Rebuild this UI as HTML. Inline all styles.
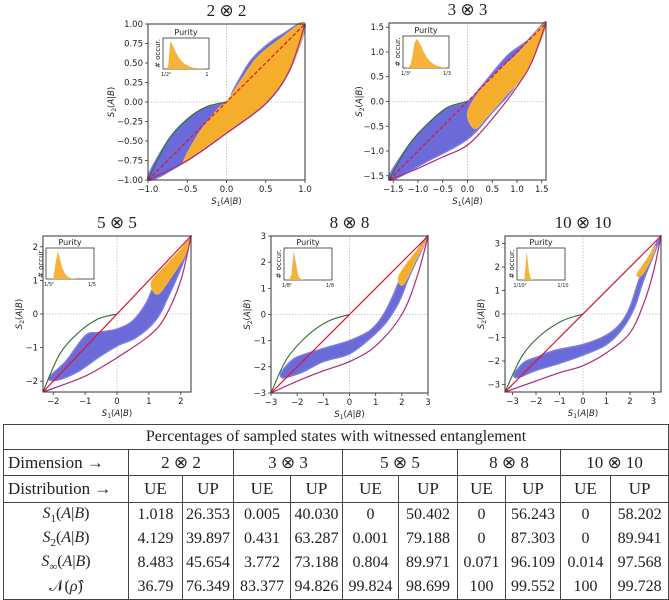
<!DOCTYPE html>
<html><head><meta charset="utf-8">
<style>
body{margin:0;background:#fff;width:669px;height:599px;overflow:hidden;position:relative;font-family:"DejaVu Sans",sans-serif}
svg{position:absolute;left:0;top:0}
table{position:absolute;left:3px;top:424px;width:665px;border-collapse:collapse;font-family:"Liberation Serif",serif;font-size:16px;color:#222;table-layout:fixed}
td{border-left:1px solid #444;border-right:1px solid #444;text-align:center;padding:0;white-space:nowrap;overflow:hidden}
tr.h td{border-top:1px solid #444;border-bottom:1px solid #444}
tr.t td{height:24px}
tr.dm td{height:25px;font-size:17px}
tr.ds td{height:26px;font-size:17px}
tr.d td{height:24px;font-size:16px}
tr.last td{border-bottom:1px solid #444}
</style></head><body>
<svg id="fig" width="669" height="424"></svg>
<table>
<colgroup><col style="width:125px"><col style="width:54px"><col style="width:51px"><col style="width:57px"><col style="width:52px"><col style="width:56px"><col style="width:59px"><col style="width:48px"><col style="width:55px"><col style="width:50px"><col style="width:58px"></colgroup>
<tr class="h t"><td colspan="11">Percentages of sampled states with witnessed entanglement</td></tr>
<tr class="h dm"><td style="text-align:left;padding-left:4px">Dimension →</td><td colspan="2">2 ⊗ 2</td><td colspan="2">3 ⊗ 3</td><td colspan="2">5 ⊗ 5</td><td colspan="2">8 ⊗ 8</td><td colspan="2">10 ⊗ 10</td></tr>
<tr class="h ds"><td style="text-align:left;padding-left:4px">Distribution →</td><td>UE</td><td>UP</td><td>UE</td><td>UP</td><td>UE</td><td>UP</td><td>UE</td><td>UP</td><td>UE</td><td>UP</td></tr>
<tr class="d"><td><i>S</i><sub style="font-size:11px">1</sub>(<i>A</i>|<i>B</i>)</td><td>1.018</td><td>26.353</td><td>0.005</td><td>40.030</td><td>0</td><td>50.402</td><td>0</td><td>56.243</td><td>0</td><td>58.202</td></tr>
<tr class="d"><td><i>S</i><sub style="font-size:11px">2</sub>(<i>A</i>|<i>B</i>)</td><td>4.129</td><td>39.897</td><td>0.431</td><td>63.287</td><td>0.001</td><td>79.188</td><td>0</td><td>87.303</td><td>0</td><td>89.941</td></tr>
<tr class="d"><td><i>S</i><sub style="font-size:11px">∞</sub>(<i>A</i>|<i>B</i>)</td><td>8.483</td><td>45.654</td><td>3.772</td><td>73.188</td><td>0.804</td><td>89.971</td><td>0.071</td><td>96.109</td><td>0.014</td><td>97.568</td></tr>
<tr class="d last"><td>𝒩(<i>ρ̂</i>)</td><td>36.79</td><td>76.349</td><td>83.377</td><td>94.826</td><td>99.824</td><td>98.699</td><td>100</td><td>99.552</td><td>100</td><td>99.728</td></tr>
</table>
<script>
// ---- data ----
const p1Pink=[[-1,-1],[-0.5,-0.75],[0,-0.4],[0.5,-0.02],[0.8,0.4],[1,1]];
const p1Green=[[-1,-1],[-0.75,-0.5],[-0.5,-0.22],[-0.25,-0.06],[0,0]];
const p1Blue=[[-1,-1],[-0.75,-0.5],[-0.5,-0.22],[-0.25,-0.06],[0,0],[0.1,0.18],[0.3,0.52],[0.5,0.72],[0.7,0.86],[1,1],[0.8,0.4],[0.5,-0.02],[0,-0.4],[-0.5,-0.75]];
const p1Orange=[[-0.55,-0.78],[-0.35,-0.4],[-0.1,-0.08],[0,0],[0.2,0.3],[0.4,0.58],[0.7,0.82],[1,1],[0.8,0.4],[0.5,-0.02],[0,-0.4],[-0.3,-0.6]];
const p1Hist=[0,10,100,88,70,55,42,32,24,18,13,10,7,5,4,3,2,1,1,0];
const p2Pink=[[-1.585,-1.585],[-1,-1.35],[-0.5,-1.12],[0,-0.88],[0.5,-0.35],[1,0.3],[1.3,0.8],[1.585,1.585]];
const p2Green=[[-1.585,-1.585],[-1.2,-0.9],[-0.8,-0.45],[-0.4,-0.12],[0,0]];
const p2Blue=[[-1.585,-1.585],[-1.2,-0.9],[-0.8,-0.45],[-0.4,-0.12],[0,0],[0.3,0.33],[0.8,0.92],[1.2,1.22],[1.585,1.585],[1.0,0.38],[0.5,-0.22],[0,-0.76],[-0.8,-1.2]];
const p2Orange=[[0,-0.25],[0.2,0.15],[0.6,0.6],[1.0,0.95],[1.585,1.585],[1.2,0.62],[0.8,0.15],[0.4,-0.3],[0.15,-0.55]];
const p2Hist=[0,2,10,40,85,100,92,78,62,48,36,27,20,14,10,7,5,3,2,0];
const p3Pink=[[-2.32,-2.32],[-1,-1.85],[0,-1.3],[1,-0.65],[1.5,-0.1],[2,1.0],[2.32,2.32]];
const p3Green=[[-2.32,-2.32],[-1.8,-1.2],[-1.2,-0.55],[-0.6,-0.15],[0,0]];
const p3Blue=[[-2.1,-1.85],[-1.6,-1.4],[-1.0,-0.65],[-0.6,-0.55],[0,-0.45],[0.5,-0.2],[0.9,0.3],[1.2,0.9],[1.7,1.45],[2.2,2.0],[2.32,2.32],[2.1,1.6],[1.6,0.5],[1.2,-0.2],[0.6,-0.7],[0,-0.95],[-0.6,-1.3],[-1.2,-1.7],[-1.8,-1.95],[-2.1,-1.97]];
const p3Orange=[[1.1,1.0],[1.5,1.42],[2.0,1.92],[2.32,2.32],[2.1,1.7],[1.7,1.1],[1.3,0.6],[1.1,0.75]];
const p3Hist=[0,0,5,60,100,70,40,22,12,6,3,2,1,0,0,0,0,0,0,0];
const p4Pink=[[-3,-3],[-2,-2.55],[-1,-2.15],[0,-1.8],[1,-1.2],[2,0],[2.6,1.5],[3,3]];
const p4Green=[[-3,-3],[-2.4,-1.7],[-1.6,-0.8],[-0.8,-0.25],[0,0]];
const p4Blue=[[-2.6,-2.2],[-2.2,-1.75],[-1.8,-1.55],[-1,-1.3],[0,-1.0],[0.8,-0.6],[1.3,0],[1.7,0.8],[2.0,1.5],[2.5,2.3],[3,3],[2.3,1.5],[1.9,0.5],[1.4,-0.3],[0.8,-0.9],[0,-1.5],[-1,-1.8],[-1.8,-2.2],[-2.4,-2.4],[-2.6,-2.4]];
const p4Orange=[[1.9,1.5],[2.3,2.1],[2.8,2.7],[2.95,2.85],[2.6,2.2],[2.1,1.2],[1.9,1.2]];
const p4Hist=[0,0,20,100,60,15,4,1,0,0,0,0,0,0,0,0,0,0,0,0];
const p5Pink=[[-3.32,-3.32],[-2,-2.85],[-1,-2.5],[0,-2.2],[1,-1.65],[2,-0.8],[2.6,0.5],[3.0,1.8],[3.32,3.32]];
const p5Green=[[-3.32,-3.32],[-2.6,-1.8],[-1.8,-0.9],[-0.9,-0.3],[0,0]];
const p5Blue=[[-2.9,-2.5],[-2.5,-2.05],[-2,-1.85],[-1.2,-1.55],[0,-1.3],[1,-0.9],[1.6,-0.4],[2,0.3],[2.4,1.5],[2.8,2.4],[3.32,3.32],[2.6,1.5],[2.2,0.3],[1.7,-0.6],[1,-1.3],[0,-1.75],[-1,-2.1],[-2,-2.4],[-2.6,-2.65],[-2.9,-2.7]];
const p5Orange=[[2.3,1.7],[2.7,2.3],[3.1,2.9],[2.9,2.35],[2.5,1.65]];
const p5Hist=[0,0,5,100,30,3,0,0,0,0,0,0,0,0,0,0,0,0,0,0];
const p1Ticks=["-1.00","-0.75","-0.50","-0.25","0.00","0.25","0.50","0.75","1.00"];
const p1XTicks=["-1.0","-0.5","0.0","0.5","1.0"];
const p2Ticks=["-1.5","-1.0","-0.5","0.0","0.5","1.0","1.5"];
const p3Ticks=["-2","-1","0","1","2"];
const p4Ticks=["-3","-2","-1","0","1","2","3"];
const p5Ticks=["-3","-2","-1","0","1","2","3"];
const titles=["2 ⊗ 2","3 ⊗ 3","5 ⊗ 5","8 ⊗ 8","10 ⊗ 10"];
const dims=["2","3","5","8","10"];

// ---- layout (not data) ----
const panels=[
 {L:148,T:24,W:157,H:156,r:1,yt:p1Ticks,xt:p1XTicks,pink:p1Pink,green:p1Green,blue:p1Blue,orange:p1Orange,hist:p1Hist,ins:[15,14,46,31],dash:true,yo:34},
 {L:389,T:23,W:157,H:157,r:1.585,yt:p2Ticks,xt:p2Ticks,pink:p2Pink,green:p2Green,blue:p2Blue,orange:p2Orange,hist:p2Hist,ins:[14,13,46,32],dash:true,yo:27},
 {L:43,T:236,W:148,H:156,r:2.32,yt:p3Ticks,xt:p3Ticks,pink:p3Pink,green:p3Green,blue:p3Blue,orange:p3Orange,hist:p3Hist,ins:[3,12,48,31],yo:21},
 {L:271,T:236,W:157,H:157,r:3,yt:p4Ticks,xt:p4Ticks,pink:p4Pink,green:p4Green,blue:p4Blue,orange:p4Orange,hist:p4Hist,ins:[13,12,48,32],yo:21},
 {L:505,T:236,W:156,H:156,r:3.32,yt:p5Ticks,xt:p5Ticks,pink:p5Pink,green:p5Green,blue:p5Blue,orange:p5Orange,hist:p5Hist,ins:[12,12,48,32],yo:21}
];
const NS="http://www.w3.org/2000/svg";
const svg=document.getElementById('fig');
function mk(tag,attrs,parent){const e=document.createElementNS(NS,tag);for(const k in attrs)e.setAttribute(k,attrs[k]);(parent||svg).appendChild(e);return e;}
function smooth(P,closed){
 const n=P.length;let d='M'+P[0][0].toFixed(1)+','+P[0][1].toFixed(1);
 const get=k=>closed?P[(k+n)%n]:P[Math.max(0,Math.min(n-1,k))];
 const m=closed?n:n-1;
 for(let k=0;k<m;k++){const p0=get(k-1),p1=get(k),p2=get(k+1),p3=get(k+2);
  const c1=[p1[0]+(p2[0]-p0[0])/6,p1[1]+(p2[1]-p0[1])/6],c2=[p2[0]-(p3[0]-p1[0])/6,p2[1]-(p3[1]-p1[1])/6];
  d+='C'+c1.map(v=>v.toFixed(1)).join(',')+' '+c2.map(v=>v.toFixed(1)).join(',')+' '+p2.map(v=>v.toFixed(1)).join(',');}
 return d+(closed?'Z':'');
}
panels.forEach((p,i)=>{
 const g=mk('g',{});
 
 
 const sx=v=>p.L+(v+p.r)/(2*p.r)*p.W, sy=v=>p.T+p.H-(v+p.r)/(2*p.r)*p.H;
 const px=a=>a.map(q=>[sx(q[0]),sy(q[1])]);
 const t=mk('text',{x:p.L+p.W/2,y:p.T-8,'text-anchor':'middle','font-family':'Liberation Serif, serif','font-size':17,fill:'#222'},g);
 t.textContent=titles[i];
 
 
 mk('line',{x1:sx(0),x2:sx(0),y1:p.T,y2:p.T+p.H,stroke:'#bbb','stroke-width':0.8,'stroke-dasharray':'1.5,1.5'},g);
 mk('line',{x1:p.L,x2:p.L+p.W,y1:sy(0),y2:sy(0),stroke:'#bbb','stroke-width':0.8,'stroke-dasharray':'1.5,1.5'},g);
 const b=mk('path',{d:smooth(px(p.blue),true),fill:'#6a6bd8',stroke:'#7b7cdc','stroke-width':1.5},g);
 
 
 const o=mk('path',{d:smooth(px(p.orange),true),fill:'#f4ae2c',stroke:'#f4b84a','stroke-width':1},g);
 
 
 const pk=mk('path',{d:smooth(px(p.pink),false),fill:'none',stroke:'#b0287c','stroke-width':1.2},g);
 
 
 const gr=mk('path',{d:smooth(px(p.green),false),fill:'none',stroke:'#2e7030','stroke-width':1.1},g);
 
 
 const rd=mk('line',{x1:sx(-p.r),y1:sy(-p.r),x2:sx(p.r),y2:sy(p.r),stroke:'#e3122c','stroke-width':1.2},g);
 if(p.dash)rd.setAttribute('stroke-dasharray','4,2');
 
 
 mk('rect',{x:p.L,y:p.T,width:p.W,height:p.H,fill:'none',stroke:'#333','stroke-width':1},g);
 p.yt.forEach(s=>{const v=parseFloat(s);const y=sy(v);
  mk('line',{x1:p.L-3,x2:p.L,y1:y,y2:y,stroke:'#333','stroke-width':0.8},g);
  const tt=mk('text',{x:p.L-5,y:y+3,'text-anchor':'end','font-size':8.5,fill:'#222'},g);tt.textContent=s.replace('-','−');});
 p.xt.forEach(s=>{const v=parseFloat(s);const x=sx(v);
  mk('line',{x1:x,x2:x,y1:p.T+p.H,y2:p.T+p.H+3,stroke:'#333','stroke-width':0.8},g);
  const tt=mk('text',{x:x,y:p.T+p.H+12,'text-anchor':'middle','font-size':8.5,fill:'#222'},g);tt.textContent=s.replace('-','−');});
 const xl=mk('text',{x:p.L+p.W/2,y:p.T+p.H+24,'text-anchor':'middle','font-size':8.5,fill:'#222'},g);
 xl.innerHTML='<tspan font-style="italic">S</tspan><tspan font-size="6" dy="2">1</tspan><tspan dy="-2">(</tspan><tspan font-style="italic">A|B</tspan>)';
 
 
 const ylx=p.L-p.yo, yly=p.T+p.H/2;
 const yl=mk('text',{x:ylx,y:yly,'text-anchor':'middle','font-size':8.5,fill:'#222',transform:'rotate(-90 '+ylx+' '+yly+')'},g);
 yl.innerHTML='<tspan font-style="italic">S</tspan><tspan font-size="6" dy="2">2</tspan><tspan dy="-2">(</tspan><tspan font-style="italic">A|B</tspan>)';
 
 
 // inset
 const [ix,iy,iw,ih]=p.ins; const X=p.L+ix,Y=p.T+iy;
 const ig=mk('g',{},g);
 
 
 mk('rect',{x:X,y:Y,width:iw,height:ih,fill:'#fff',stroke:'#333','stroke-width':0.8},ig);
 const n=p.hist.length, mx=Math.max(...p.hist);
 const hp=[[X+2,Y+ih]];
 p.hist.forEach((h,k)=>{hp.push([X+2+(k+0.5)*(iw-4)/n, Y+ih-h/mx*(ih-3)]);});
 hp.push([X+iw-2,Y+ih]);
 const hh=mk('polygon',{points:hp.map(q=>q[0].toFixed(1)+','+q[1].toFixed(1)).join(' '),fill:'#f6b23a'},ig);
 
 
 const pt=mk('text',{x:X+iw/2,y:Y-3,'text-anchor':'middle','font-size':8,fill:'#222'},ig);pt.textContent='Purity';
 const oc=mk('text',{x:X-3,y:Y+ih/2,'text-anchor':'middle','font-size':7,fill:'#222',transform:'rotate(-90 '+(X-3)+' '+(Y+ih/2)+')'},ig);oc.textContent='# occur.';
 const l1=mk('text',{x:X+3,y:Y+ih+7,'text-anchor':'middle','font-size':5,fill:'#222'},ig);l1.textContent='1/'+dims[i]+'²';
 const l2=mk('text',{x:X+iw-2,y:Y+ih+7,'text-anchor':'middle','font-size':5,fill:'#222'},ig);l2.textContent=(i==0?'1':'1/'+dims[i]);
});
</script>
</body></html>
